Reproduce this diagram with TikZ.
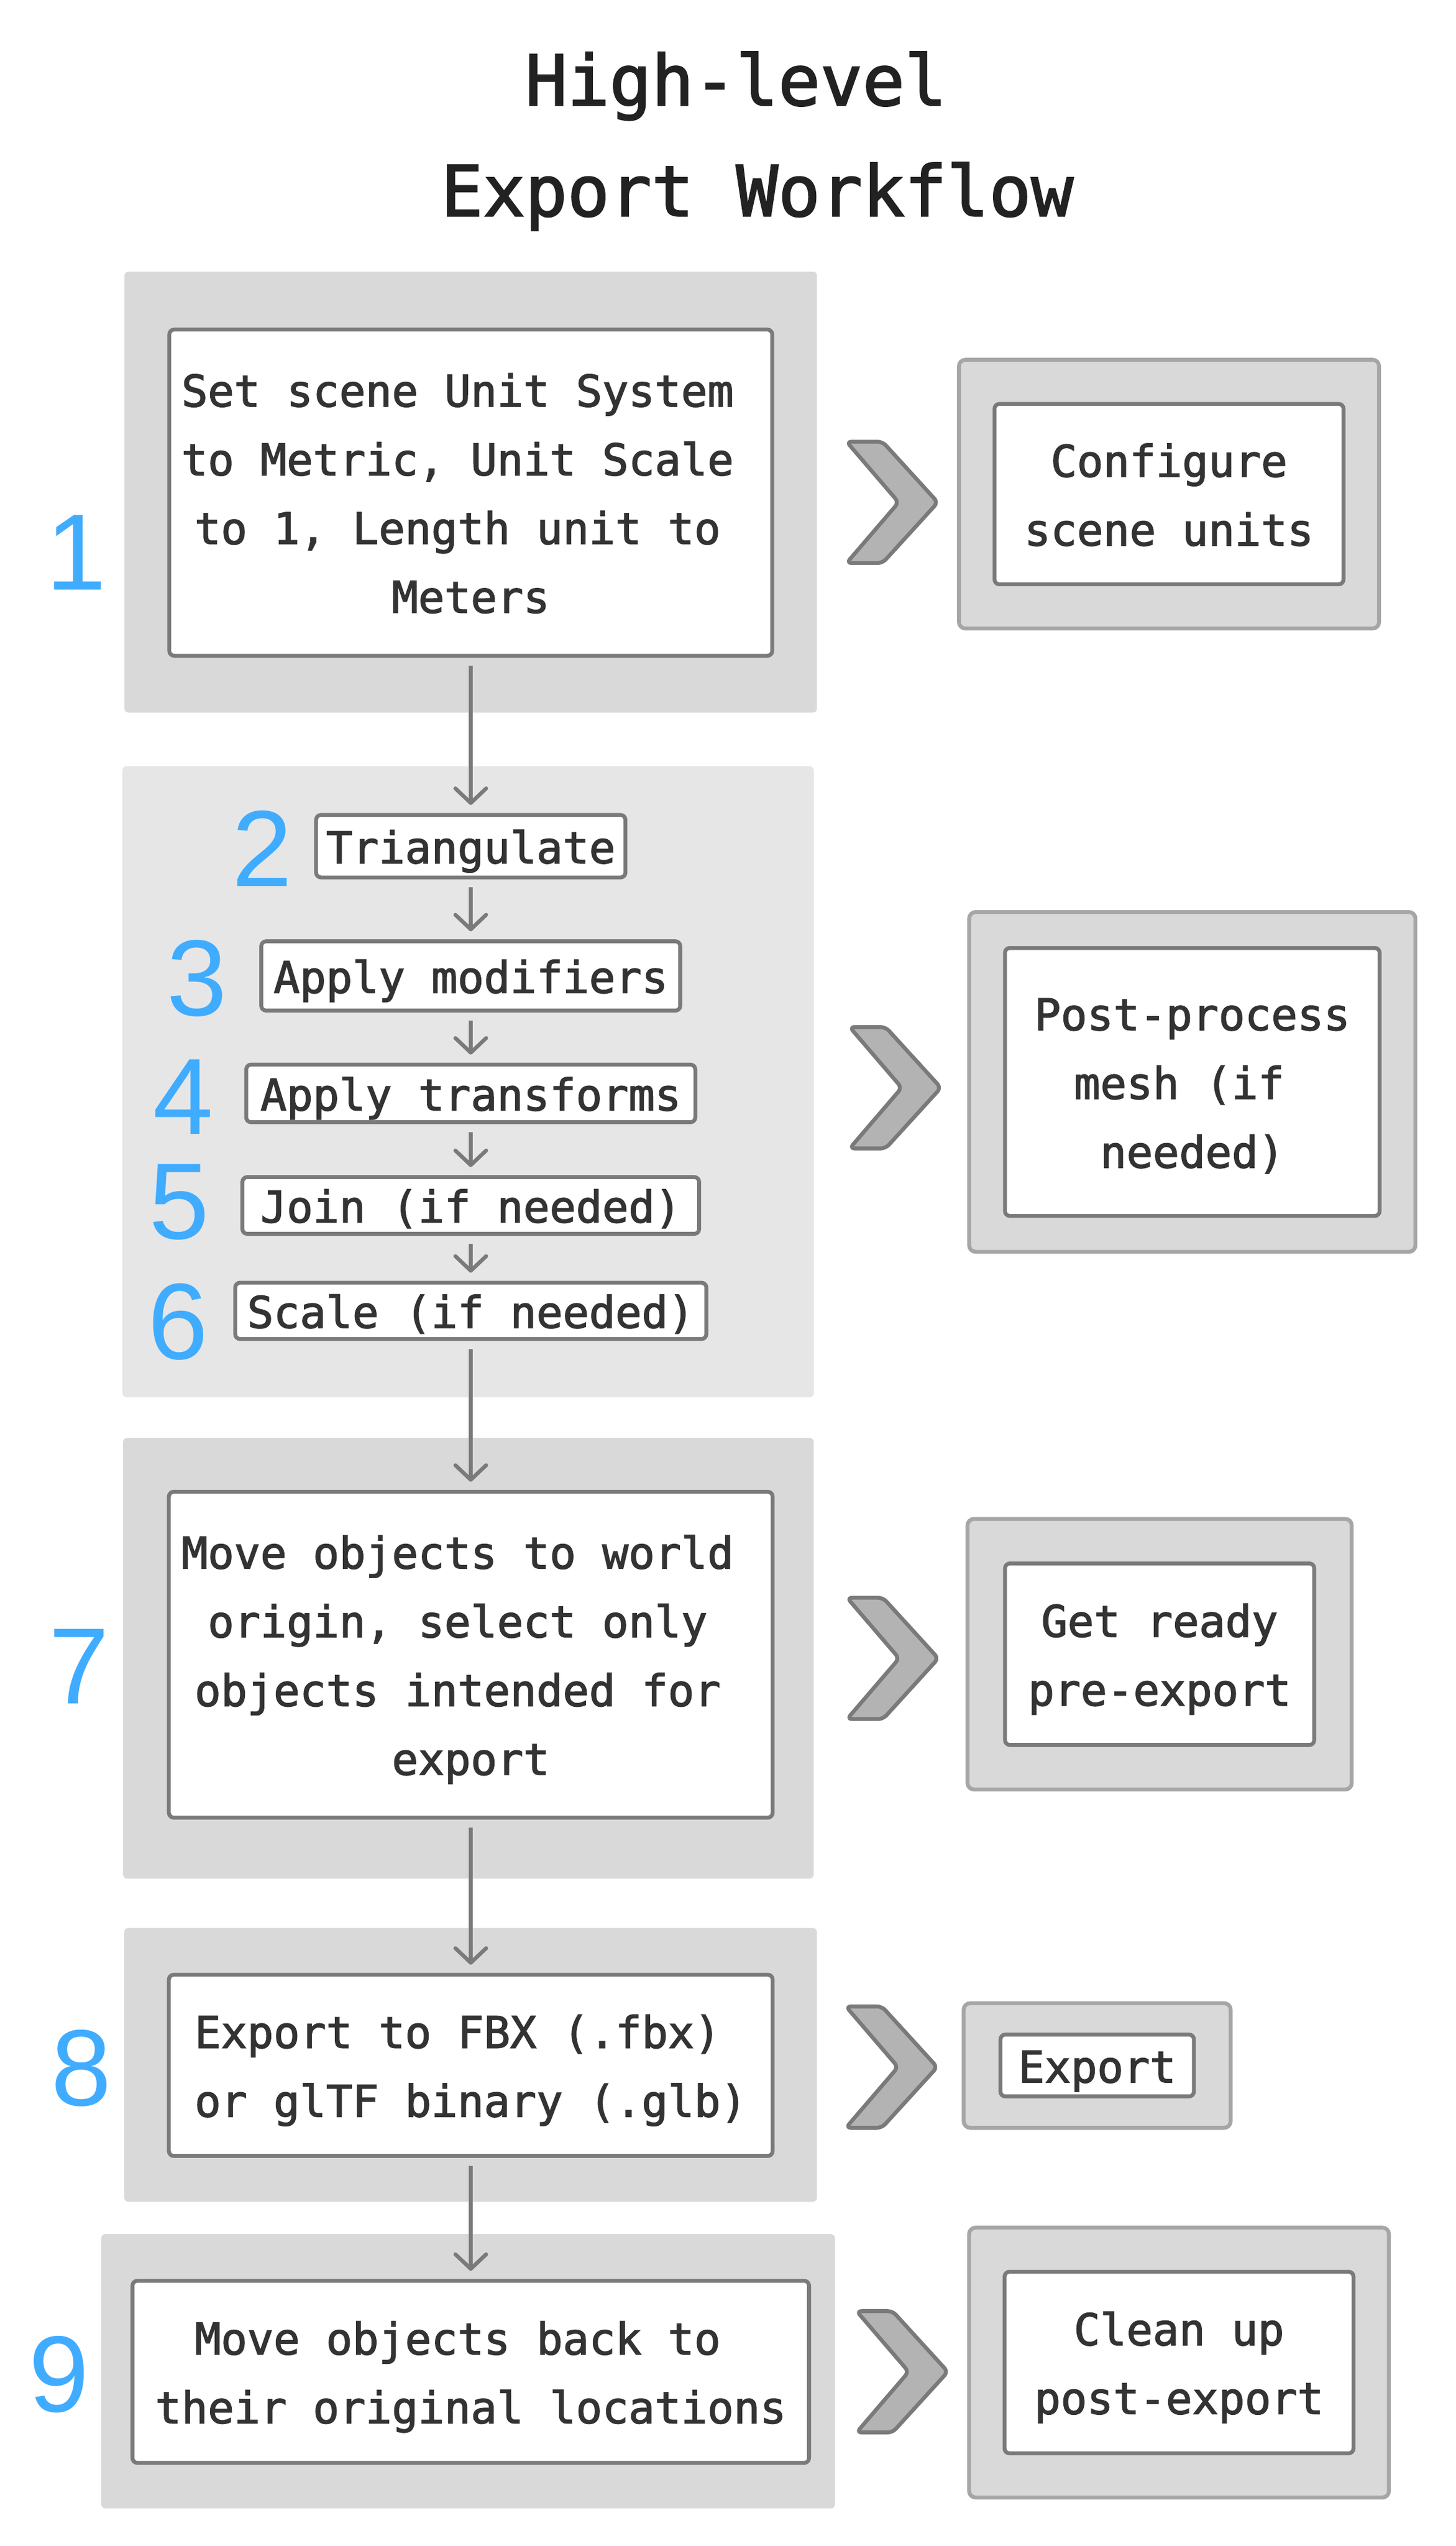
\documentclass[tikz,border=0pt]{standalone}
\usepackage{fontspec}
\setmonofont{DejaVu Sans Mono}[FakeBold=2]
\newfontfamily\numfamily{Liberation Sans}
\usetikzlibrary{positioning, arrows.meta, fit, backgrounds}

\definecolor{secgray}{HTML}{D9D9D9}
\definecolor{secpale}{HTML}{E6E6E6}
\definecolor{goalline}{HTML}{A6A6A6}
\definecolor{boxline}{HTML}{7A7A7A}
\definecolor{chevfill}{HTML}{B3B3B3}
\definecolor{textdark}{HTML}{333333}
\definecolor{titledark}{HTML}{222222}
\definecolor{numblue}{HTML}{40ACFF}

\newcommand{\bodyfont}{\ttfamily\fontsize{27}{42.5}\selectfont}
\newcommand{\titlefont}{\ttfamily\fontsize{43.3}{68.4}\selectfont}
\newcommand{\numfont}{\numfamily\fontsize{67}{67}\selectfont}
\newcommand{\trail}{\hphantom{0}}

\tikzstyle{section} = [rectangle, fill=secgray, rounded corners=2.5pt, inner sep=0pt]
\tikzstyle{stepbox} = [rectangle, draw=boxline, line width=2.4pt, fill=white, rounded corners=3pt, text=textdark, font=\bodyfont, align=center, inner sep=0pt]
\tikzstyle{bigstep} = [stepbox, text depth=10.75pt]
\tikzstyle{smallstep} = [stepbox, text height=27pt, text depth=6pt]
\tikzstyle{twolines} = [text height=74.25pt]
\tikzstyle{threelines} = [text height=116.75pt]
\tikzstyle{fourlines} = [text height=159.25pt]
\tikzstyle{goalbox} = [rectangle, draw=goalline, line width=2.4pt, fill=secgray, rounded corners=4pt]
\tikzstyle{stepnum} = [font=\numfont, text=numblue, inner sep=0pt]
\tikzstyle{titletext} = [font=\titlefont, text=titledark, align=center, inner sep=0pt, text height=119.5pt, text depth=17.3pt]
\tikzstyle{arrow} = [line width=2.4pt, draw=boxline, -{Straight Barb[length=9pt, width=19pt, round]}, shorten <=5pt, shorten >=5pt]
\tikzstyle{chevline} = [fill=chevfill, draw=boxline, line width=2.4pt, rounded corners=3pt, line join=round]
\tikzset{chevron/.pic={\draw[chevline] (-28.2,-37.5) -- (-6,-37.5) -- (28.2,0) -- (-6,37.5) -- (-28.2,37.5) -- (4,0) -- cycle;}}

\begin{document}
\begin{tikzpicture}[x=1pt, y=-1pt]

  \useasboundingbox (0,0) rectangle (900,1573.6);

  % Title
  \node (title) [titletext] at (468, 82.4) {High-level\trail\\Export Workflow};

  % Steps (left column)
  \node (s1) [bigstep, fourlines, minimum width=372.7pt, minimum height=201.6pt] at (291, 304.5) {Set scene Unit System\trail\\to Metric, Unit Scale\trail\\to 1, Length unit to\trail\\Meters};
  \node (tri) [smallstep, below=96pt of s1, minimum width=191.2pt, minimum height=38.6pt] {Triangulate};
  \node (modif) [smallstep, below=37.1pt of tri, minimum width=259pt, minimum height=42.8pt] {Apply modifiers};
  \node (transf) [smallstep, below=31pt of modif, minimum width=277.6pt, minimum height=35.6pt] {Apply transforms};
  \node (joinstep) [smallstep, below=31.5pt of transf, minimum width=282.3pt, minimum height=35.1pt] {Join (if needed)};
  \node (scalestep) [smallstep, below=27.8pt of joinstep, minimum width=291.2pt, minimum height=34.8pt] {Scale (if needed)};
  \node (s7) [bigstep, fourlines, below=92pt of scalestep, minimum width=373.2pt, minimum height=201.4pt] {Move objects to world\trail\\origin, select only\trail\\objects intended for\trail\\export};
  \node (s8) [bigstep, twolines, below=94.7pt of s7, minimum width=373.2pt, minimum height=112pt] {Export to FBX (.fbx)\trail\\or glTF binary (.glb)};
  \node (s9) [bigstep, twolines, below=74.8pt of s8, minimum width=418.2pt, minimum height=112.5pt] {Move objects back to\trail\\their original locations};

  % Step numbers
  \node (n1) [stepnum] at (47, 341.4) {1};
  \node (n2) [stepnum] at (162.2, 524.6) {2};
  \node (n3) [stepnum] at (121.9, 604.7) {3};
  \node (n4) [stepnum] at (113.2, 677.8) {4};
  \node (n5) [stepnum] at (110.7, 743) {5};
  \node (n6) [stepnum] at (110.1, 816.8) {6};
  \node (n7) [stepnum] at (49, 1029.8) {7};
  \node (n8) [stepnum] at (50.3, 1278.3) {8};
  \node (n9) [stepnum] at (36.4, 1467.7) {9};

  % Goals (right column)
  \node (r1) [bigstep, twolines, minimum width=215.7pt, minimum height=111.5pt] at (722.6, 305.4) {Configure\\scene units};
  \node (r2) [bigstep, threelines, minimum width=231.6pt, minimum height=165.6pt] at (737, 668.7) {Post-process\\mesh (if\trail\\needed)};
  \node (r3) [bigstep, twolines, minimum width=191.1pt, minimum height=112.2pt] at (716.8, 1022.4) {Get ready\\pre-export};
  \node (r4) [smallstep, minimum width=119.6pt, minimum height=38.2pt] at (678.2, 1276.6) {Export};
  \node (r5) [bigstep, twolines, minimum width=215.7pt, minimum height=112.2pt] at (728.8, 1460.2) {Clean up\\post-export};

  % Chevrons
  \pic at (551.5, 310.5) {chevron};
  \pic at (553.4, 672.3) {chevron};
  \pic at (551.8, 1025) {chevron};
  \pic at (551.1, 1277.6) {chevron};
  \pic at (557.7, 1465.9) {chevron};

  % Arrows - main flow
  \draw[arrow] (s1) -- (tri);
  \draw[arrow] (tri) -- (modif);
  \draw[arrow] (modif) -- (transf);
  \draw[arrow] (transf) -- (joinstep);
  \draw[arrow] (joinstep) -- (scalestep);
  \draw[arrow] (scalestep) -- (s7);
  \draw[arrow] (s7) -- (s8);
  \draw[arrow] (s8) -- (s9);

  % Section boxes
  \begin{scope}[on background layer]
    \fill[white] (0,0) rectangle (900,1573.6);
    \node (g1) [section, minimum width=428.1pt, minimum height=272.5pt] at (290.95, 304.15) {};
    \node (g2) [section, fill=secpale, minimum width=427.3pt, minimum height=390pt] at (289.35, 668.6) {};
    \node (g3) [section, minimum width=426.8pt, minimum height=272.4pt] at (289.5, 1024.9) {};
    \node (g4) [section, minimum width=428.1pt, minimum height=169.2pt] at (290.9, 1276.2) {};
    \node (g5) [section, minimum width=453.5pt, minimum height=169.6pt] at (289.35, 1465.6) {};
    \node (o1) [goalbox, fit=(r1), inner xsep=20.8pt, inner ysep=26.1pt] {};
    \node (o2) [goalbox, fit=(r2), inner xsep=20.9pt, inner ysep=21pt] {};
    \node (o3) [goalbox, fit=(r3), inner xsep=22pt, inner ysep=26.3pt] {};
    \node (o4) [goalbox, fit=(r4), inner xsep=21.5pt, inner ysep=18.2pt] {};
    \node (o5) [goalbox, fit=(r5), inner xsep=20.7pt, inner ysep=26.1pt] {};
  \end{scope}

\end{tikzpicture}
\end{document}
